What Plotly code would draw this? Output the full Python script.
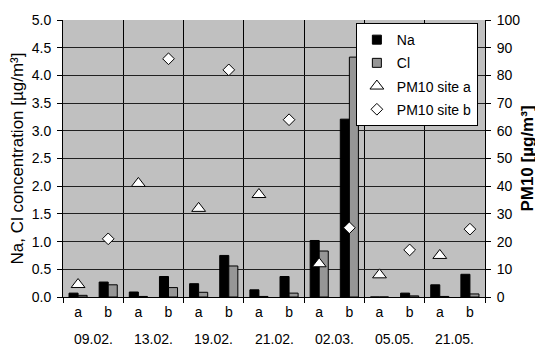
import plotly.graph_objects as go

dates = ["09.02.", "13.02.", "19.02.", "21.02.", "02.03.", "05.05.", "21.05."]
sites = ["a", "b"]
na = [0.07, 0.27, 0.09, 0.37, 0.24, 0.75, 0.13, 0.37, 1.02, 3.21, 0.0, 0.07, 0.22, 0.41]
cl = [0.03, 0.22, 0.01, 0.17, 0.085, 0.56, 0.01, 0.07, 0.83, 4.33, 0.0, 0.02, 0.01, 0.055]
pm10_a = [4.5, 41, 32, 37, 12, 8, 15]
pm10_b = [21, 86, 82, 64, 25, 17, 24.5]

n = len(dates) * len(sites)
xpos = list(range(n))
tick_text = [s for _ in dates for s in sites]
xa = xpos[0::2]
xb = xpos[1::2]

FONT = "Liberation Sans, Arial, sans-serif"
NA_COLOR = "black"
CL_COLOR = "#969696"

fig = go.Figure()
fig.add_trace(go.Bar(x=xpos, y=na, name="Na", showlegend=False,
                     marker=dict(color=NA_COLOR, line=dict(color="black", width=1))))
fig.add_trace(go.Bar(x=xpos, y=cl, name="Cl", showlegend=False,
                     marker=dict(color=CL_COLOR, line=dict(color="black", width=1))))
# legend entries for the bar series (small square swatches as in the reference)
fig.add_trace(go.Scatter(x=[None], y=[None], name="Na", mode="markers", legendgroup="1",
                         marker=dict(symbol="square", size=9, color=NA_COLOR, line=dict(color="black", width=1))))
fig.add_trace(go.Scatter(x=[None], y=[None], name="Cl", mode="markers", legendgroup="2",
                         marker=dict(symbol="square", size=9, color=CL_COLOR, line=dict(color="black", width=1))))
fig.add_trace(go.Scatter(x=xa, y=pm10_a, name="PM10 site a", mode="markers", yaxis="y2", legendgroup="3",
                         marker=dict(symbol="triangle-up", size=12, color="white", line=dict(color="black", width=1))))
fig.add_trace(go.Scatter(x=xb, y=pm10_b, name="PM10 site b", mode="markers", yaxis="y2", legendgroup="4",
                         marker=dict(symbol="diamond", size=9, color="white", line=dict(color="black", width=1))))

for i, d in enumerate(dates):
    fig.add_annotation(x=xpos[2 * i] + 0.5, y=0, xref="x", yref="paper", yanchor="middle", yshift=-42,
                       text=d, showarrow=False, font=dict(size=14, color="black", family=FONT))

bounds = [xpos[0] - 0.5 + 2 * i for i in range(len(dates) + 1)]

fig.update_layout(
    width=535, height=339,
    margin=dict(l=55, r=58, t=12, b=50, autoexpand=False),
    paper_bgcolor="white", plot_bgcolor="#C0C0C0",
    font=dict(family=FONT, size=14, color="black"),
    barmode="group", bargap=0.4, bargroupgap=0,
    showlegend=True,
    legend=dict(x=0.694, y=0.989, xanchor="left", yanchor="top", bgcolor="white",
                bordercolor="black", borderwidth=1, font=dict(size=14),
                tracegroupgap=2, traceorder="grouped"),
    xaxis=dict(range=[-0.5, n - 0.5], tickmode="array", tickvals=xpos, ticktext=tick_text,
               ticks="", showgrid=False, showline=True, linecolor="black", linewidth=1,
               zeroline=False, tickfont=dict(size=14), ticklabelstandoff=2, automargin=False,
               minor=dict(tickmode="array", tickvals=bounds, ticks="outside", ticklen=5,
                          tickcolor="black", showgrid=True, gridcolor="black", gridwidth=1)),
    yaxis=dict(range=[0, 5], dtick=0.5, tickformat=".1f", showgrid=True, gridcolor="#202020", gridwidth=1,
               showline=True, linecolor="black", ticks="outside", ticklen=5, tickcolor="black",
               zeroline=False, tickfont=dict(size=14), ticklabelstandoff=3, automargin=False,
               title=dict(text="Na, Cl concentration [µg/m³]", font=dict(size=17), standoff=8)),
    yaxis2=dict(range=[0, 100], dtick=10, overlaying="y", side="right", showgrid=False,
                showline=True, linecolor="black", ticks="outside", ticklen=5, tickcolor="black",
                zeroline=False, tickfont=dict(size=14), ticklabelstandoff=3, automargin=False,
                title=dict(text="<b>PM10 [µg/m³]</b>", font=dict(size=17), standoff=1)),
)

fig.write_html("out.html")
